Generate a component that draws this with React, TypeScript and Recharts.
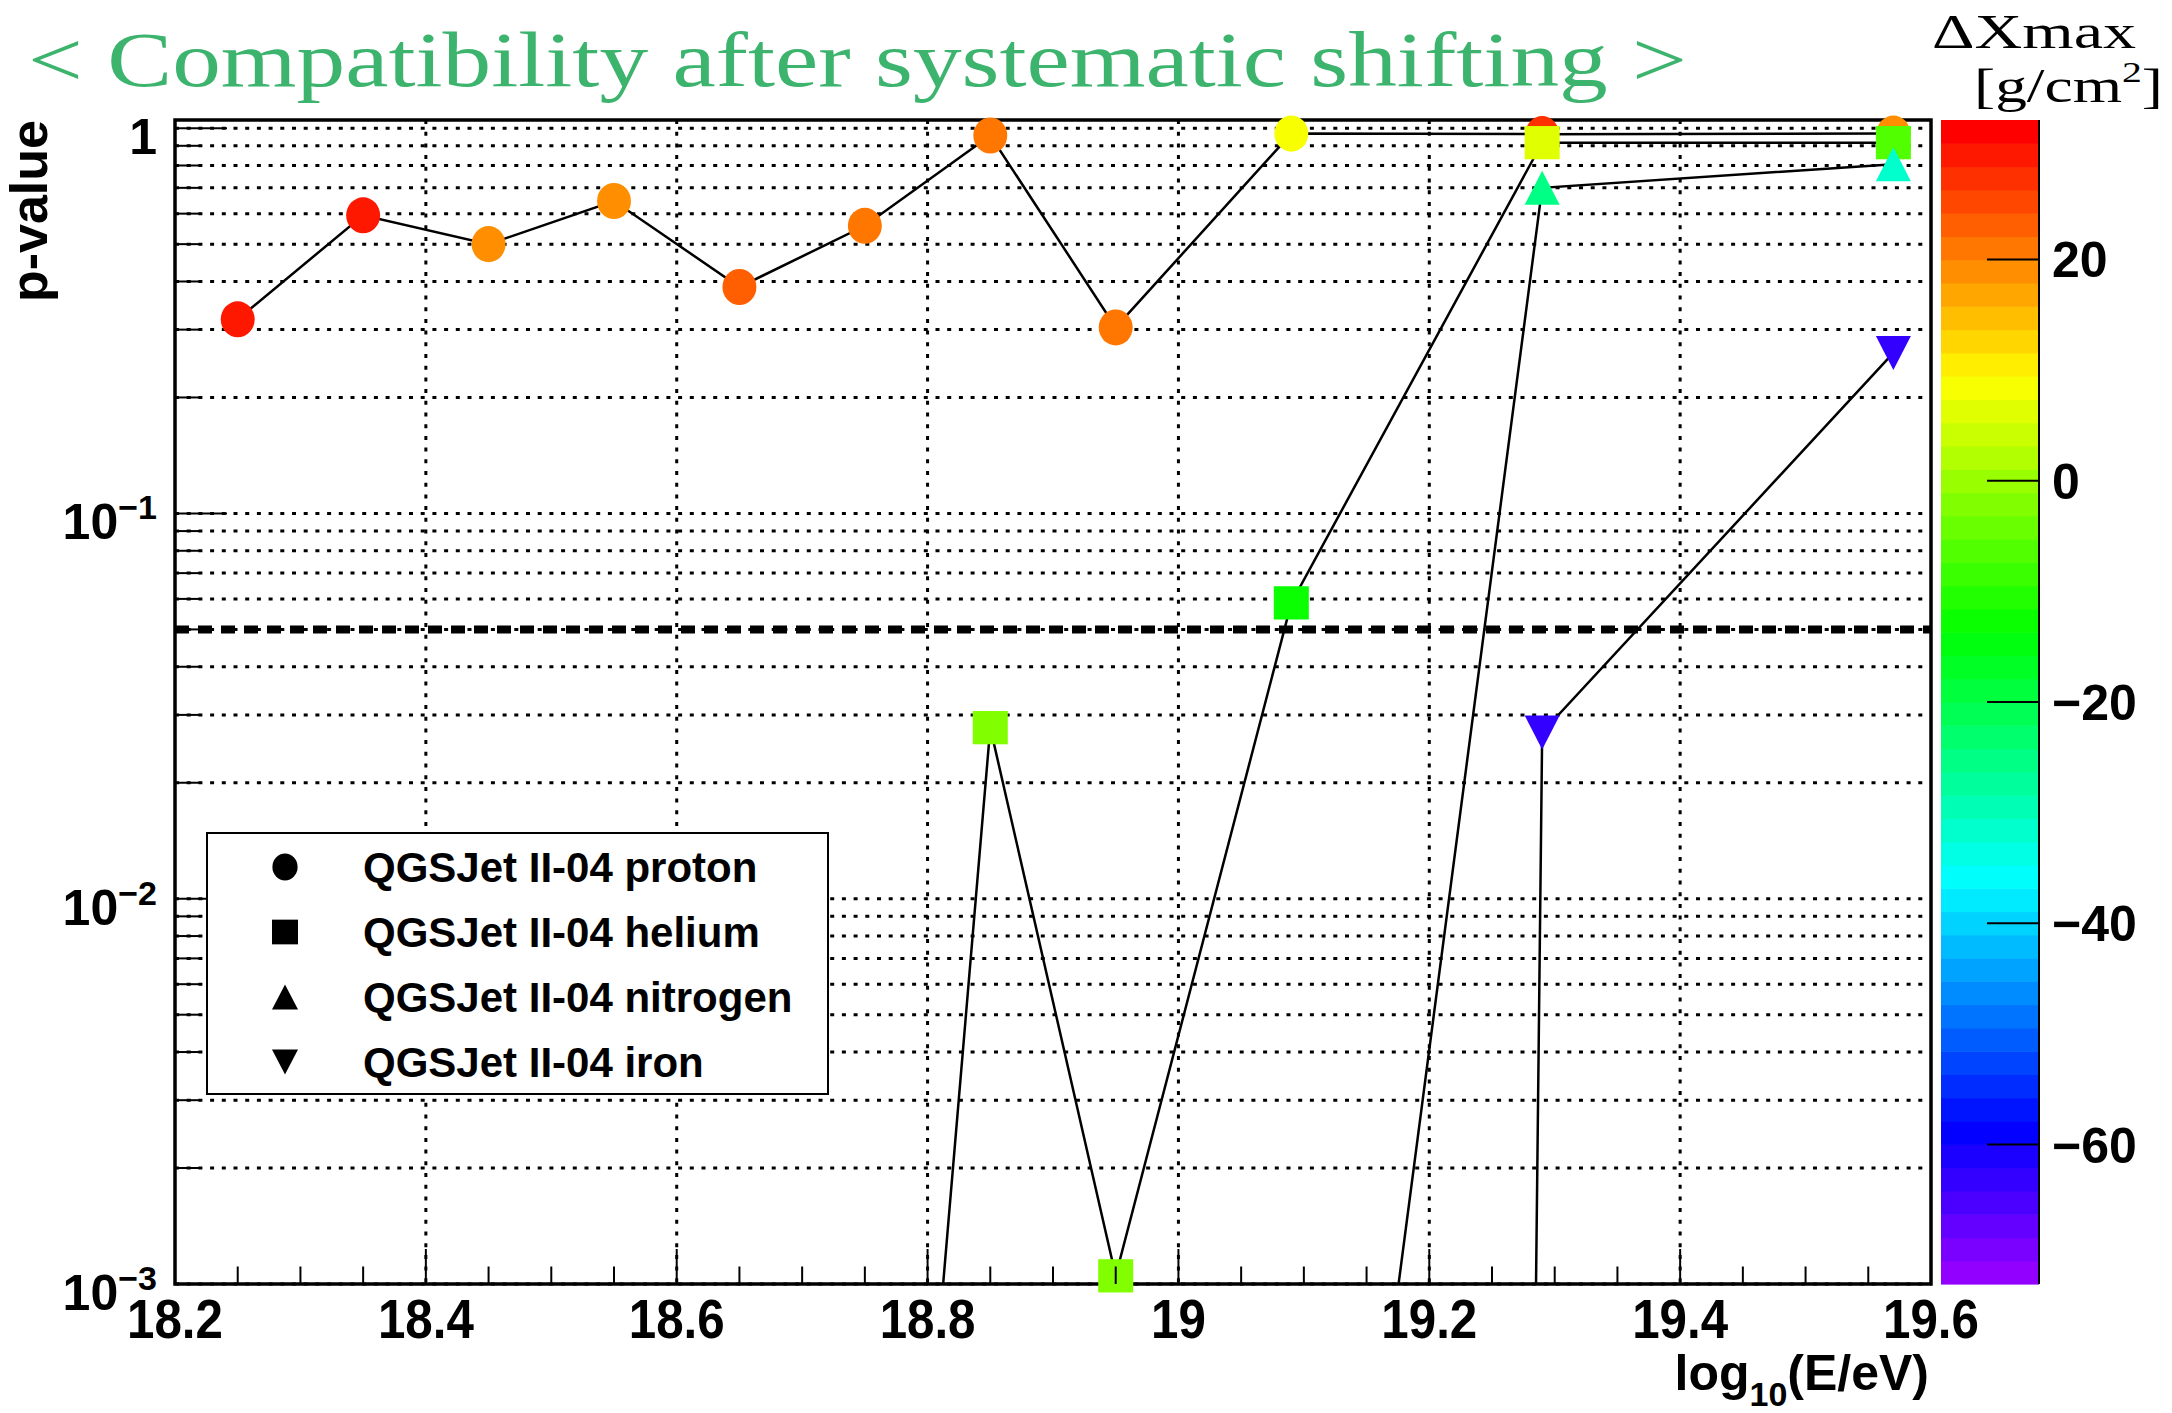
import React from "react";
import {
  ComposedChart,
  Line,
  Scatter,
  XAxis,
  YAxis,
  CartesianGrid,
  ReferenceLine,
  ReferenceArea,
} from "recharts";

// mean log10(E/eV) of each energy bin
const energy = [18.25, 18.35, 18.45, 18.55, 18.65, 18.75, 18.85, 18.95, 19.09, 19.29, 19.57];

// p-values after the Xmax shift, and the applied shift in g/cm2
const protonP = [0.319, 0.594, 0.5, 0.647, 0.387, 0.558, 0.957, 0.304, 0.968, 0.965, 0.968];
const protonShift = [30, 30, 19, 19, 23, 21, 21, 21, 8, 27, 19];

const heliumP = [null, null, null, null, null, 4e-6, 0.0278, 0.00105, 0.0586, 0.917, 0.917];
const heliumShift = [null, null, null, null, null, null, -2, -2, -12.5, 6, -6];

const nitrogenP = [null, null, null, null, null, null, null, null, 7.5e-6, 0.7, 0.806];
const nitrogenShift = [null, null, null, null, null, null, null, null, null, -25, -31.5];

const ironP = [null, null, null, null, null, null, null, null, 1e-60, 0.027, 0.261];
const ironShift = [null, null, null, null, null, null, null, null, null, -63, -63];

const X_MAJOR = [18.2, 18.4, 18.6, 18.8, 19.0, 19.2, 19.4, 19.6];
const X_TICK_LABELS = ["18.2", "18.4", "18.6", "18.8", "19", "19.2", "19.4", "19.6"];
const Y_MAJOR = [0.001, 0.01, 0.1, 1];
const Y_TICK_BASE = ["10", "10", "10", "1"];
const Y_TICK_EXP = ["\u22123", "\u22122", "\u22121", ""];
const SIG_LEVEL = 0.05;

const Z_TICKS = [20, 0, -20, -40, -60];
const Z_TICK_LABELS = ["20", "0", "\u221220", "\u221240", "\u221260"];
const Z_MIN = -72.6;
const Z_MAX = 32.6;
const N_COLORS = 50;

const X_DOMAIN: [number, number] = [18.2, 19.6];
const Y_DOMAIN: [number, number] = [0.001, 1.05];

// plot frame in page pixels
const W = 2172;
const H = 1413;
const LEFT = 175;
const RIGHT = 1931;
const TOP = 120;
const BOTTOM = 1284;

const FONT = "'Liberation Sans', Arial, Helvetica, sans-serif";
const SERIF = "'Liberation Serif', 'Times New Roman', serif";

// minor ticks every 0.05 on x, 1..9 x 10^k on y
const xTicks: number[] = [];
for (let i = 0; i <= 28; i++) xTicks.push(+(18.2 + i * 0.05).toFixed(2));
const yTicks: number[] = [];
for (let k = -3; k < 0; k++) for (let m = 1; m <= 9; m++) yTicks.push(+(m * Math.pow(10, k)).toPrecision(3));
yTicks.push(1);

// ROOT "pretty" palette: hue 280 -> 0 at full saturation
function hls(h: number) {
  const f = (hue: number) => {
    let v = hue;
    if (v > 360) v -= 360;
    if (v < 0) v += 360;
    if (v < 60) return v / 60;
    if (v < 180) return 1;
    if (v < 240) return (240 - v) / 60;
    return 0;
  };
  const c = (x: number) => Math.round(x * 255);
  return `rgb(${c(f(h + 120))},${c(f(h))},${c(f(h - 120))})`;
}
const palette: string[] = [];
for (let i = 0; i < N_COLORS; i++) palette.push(hls(280 - (i + 1) * (280 / N_COLORS)));

function shiftColor(z: number | null) {
  if (z == null) return "#000";
  let i = Math.floor(((z - Z_MIN) / (Z_MAX - Z_MIN)) * N_COLORS);
  i = Math.max(0, Math.min(N_COLORS - 1, i));
  return palette[i];
}

const SERIES = [
  { key: "proton", label: "QGSJet II-04 proton", shape: "circle", p: protonP, shift: protonShift },
  { key: "helium", label: "QGSJet II-04 helium", shape: "square", p: heliumP, shift: heliumShift },
  { key: "nitrogen", label: "QGSJet II-04 nitrogen", shape: "up", p: nitrogenP, shift: nitrogenShift },
  { key: "iron", label: "QGSJet II-04 iron", shape: "down", p: ironP, shift: ironShift },
];

const table = energy.map((x, i) => {
  const row: Record<string, number | null> = { x };
  SERIES.forEach((s) => (row[s.key] = s.p[i]));
  return row;
});

function marks(p: (number | null)[], shift: (number | null)[]) {
  return energy
    .map((x, i) => ({ x, p: p[i], shift: shift[i] }))
    .filter((d) => d.p != null && (d.p as number) >= Y_DOMAIN[0]);
}

function Marker({ shape, cx, cy, size, fill }: { shape: string; cx: number; cy: number; size: number; fill: string }) {
  const h = size / 2;
  if (shape === "circle") return <ellipse cx={cx} cy={cy} rx={h * 0.97} ry={h * 1.03} fill={fill} />;
  if (shape === "square") return <rect x={cx - h} y={cy - h * 0.95} width={size} height={size * 0.95} fill={fill} />;
  if (shape === "up")
    return <polygon points={`${cx - h},${cy + h * 0.97} ${cx + h},${cy + h * 0.97} ${cx},${cy - h * 0.97}`} fill={fill} />;
  return <polygon points={`${cx - h},${cy - h * 0.97} ${cx + h},${cy - h * 0.97} ${cx},${cy + h * 0.97}`} fill={fill} />;
}

const XTick = (props: any) => {
  const { x, y, payload } = props;
  const idx = X_MAJOR.findIndex((m) => Math.abs(m - payload.value) < 1e-6);
  const len = idx >= 0 ? 35 : 17.5;
  return (
    <g>
      <line x1={x} x2={x} y1={y} y2={y - len} stroke="#000" strokeWidth={2} />
      {idx >= 0 && (
        <g transform={`translate(${x},${y + 54}) scale(0.88,1)`}>
          <text x={0} y={0} textAnchor="middle" fontFamily={FONT} fontWeight="bold" fontSize={56} fill="#000">
            {X_TICK_LABELS[idx]}
          </text>
        </g>
      )}
    </g>
  );
};

const YTick = (props: any) => {
  const { x, y, payload } = props;
  const idx = Y_MAJOR.findIndex((m) => Math.abs(m - payload.value) / m < 1e-6);
  const len = idx >= 0 ? 52 : 26;
  return (
    <g>
      <line x1={x} x2={x + len} y1={y} y2={y} stroke="#000" strokeWidth={2} />
      {idx >= 0 && (
        <text x={x - 18} y={y + 26} textAnchor="end" fontFamily={FONT} fontWeight="bold" fontSize={50} fill="#000">
          {Y_TICK_BASE[idx]}
          {Y_TICK_EXP[idx] && (
            <tspan fontSize={34} dy={-20}>
              {Y_TICK_EXP[idx]}
            </tspan>
          )}
        </text>
      )}
    </g>
  );
};

function ColorBar() {
  const x0 = 1941;
  const x1 = 2039;
  const band = (BOTTOM - TOP) / N_COLORS;
  const zy = (z: number) => BOTTOM - ((z - Z_MIN) / (Z_MAX - Z_MIN)) * (BOTTOM - TOP);
  return (
    <g>
      {palette.map((c, i) => (
        <rect key={i} x={x0} y={BOTTOM - (i + 1) * band} width={x1 - x0} height={band + 0.6} fill={c} />
      ))}
      <line x1={x1} x2={x1} y1={TOP} y2={BOTTOM} stroke="#000" strokeWidth={2} />
      {Z_TICKS.map((z, i) => (
        <g key={z}>
          <line x1={x1 - 52} x2={x1} y1={zy(z)} y2={zy(z)} stroke="#000" strokeWidth={2} />
          <text x={2052} y={zy(z) + 18} fontFamily={FONT} fontWeight="bold" fontSize={50} fill="#000">
            {Z_TICK_LABELS[i]}
          </text>
        </g>
      ))}
    </g>
  );
}

function Legend() {
  const rowY = [867, 932, 997, 1062];
  return (
    <g>
      <rect x={207} y={833} width={621} height={261} fill="#fff" stroke="#000" strokeWidth={2} />
      {SERIES.map((s, i) => (
        <g key={s.key}>
          <Marker shape={s.shape} cx={285} cy={rowY[i]} size={26} fill="#000" />
          <text x={363} y={rowY[i] + 15} fontFamily={FONT} fontWeight="bold" fontSize={42} fill="#000">
            {s.label}
          </text>
        </g>
      ))}
    </g>
  );
}

export default function App() {
  return (
    <div style={{ position: "fixed", left: 0, top: 0, width: W, height: H, background: "#fff" }}>
      <ComposedChart
        width={W}
        height={H}
        data={table}
        margin={{ top: TOP, left: LEFT - 1, right: W - RIGHT, bottom: H - BOTTOM - 1 }}
      >
        <XAxis
          dataKey="x"
          type="number"
          domain={X_DOMAIN}
          ticks={xTicks}
          interval={0}
          height={1}
          tickSize={0}
          tickMargin={0}
          axisLine={false}
          tickLine={false}
          tick={<XTick />}
        />
        <YAxis
          yAxisId="p"
          scale="log"
          type="number"
          domain={Y_DOMAIN}
          allowDataOverflow
          ticks={yTicks}
          interval={0}
          width={1}
          tickSize={0}
          tickMargin={0}
          axisLine={false}
          tickLine={false}
          tick={<YTick />}
        />
        <YAxis
          yAxisId="m"
          orientation="right"
          width={0}
          dataKey="p"
          scale="log"
          type="number"
          domain={Y_DOMAIN}
          hide
        />
        <CartesianGrid
          yAxisId="p"
          horizontalValues={yTicks}
          verticalValues={X_MAJOR.slice(1, -1)}
          stroke="#000"
          strokeWidth={3}
          strokeDasharray="4 7.7"
        />
        <ReferenceLine yAxisId="p" y={SIG_LEVEL} stroke="#000" strokeWidth={8} strokeDasharray="14 9" />
        <ReferenceArea
          yAxisId="p"
          x1={X_DOMAIN[0]}
          x2={X_DOMAIN[1]}
          y1={Y_DOMAIN[0]}
          y2={Y_DOMAIN[1]}
          fill="none"
          fillOpacity={0}
          stroke="#000"
          strokeWidth={3.5}
        />
        {SERIES.flatMap((s) => [
          <Line
            key={s.key + "-line"}
            yAxisId="p"
            type="linear"
            dataKey={s.key}
            stroke="#000"
            strokeWidth={2.5}
            dot={false}
            activeDot={false}
            isAnimationActive={false}
          />,
          <Scatter
            key={s.key + "-marks"}
            yAxisId="m"
            data={marks(s.p, s.shift)}
            dataKey="p"
            isAnimationActive={false}
            shape={(pr: any) => (
              <Marker shape={s.shape} cx={pr.cx} cy={pr.cy} size={35} fill={shiftColor(pr.payload.shift)} />
            )}
          />,
        ])}
      </ComposedChart>
      <svg
        width={W}
        height={H}
        style={{ position: "absolute", left: 0, top: 0, pointerEvents: "none" }}
      >
        <text
          x={28}
          y={86}
          fontFamily={SERIF}
          fontSize={78}
          fill="#3db46e"
          textLength={1659}
          lengthAdjust="spacingAndGlyphs"
        >
          {"< Compatibility after systematic shifting >"}
        </text>
        <text x={1932} y={48} fontFamily={SERIF} fontSize={48} fill="#000" textLength={204} lengthAdjust="spacingAndGlyphs">
          {"\u0394Xmax"}
        </text>
        <text x={1974} y={102} fontFamily={SERIF} fontSize={48} fill="#000" textLength={189} lengthAdjust="spacingAndGlyphs">
          {"[g/cm"}
          <tspan fontSize={30} dy={-20}>
            2
          </tspan>
          <tspan dy={20}>]</tspan>
        </text>
        <text
          transform="translate(47,120) rotate(-90)"
          textAnchor="end"
          fontFamily={FONT}
          fontWeight="bold"
          fontSize={52}
          fill="#000"
        >
          p-value
        </text>
        <text x={1929} y={1390} textAnchor="end" fontFamily={FONT} fontWeight="bold" fontSize={50} fill="#000">
          log
          <tspan fontSize={34} dy={16}>
            10
          </tspan>
          <tspan dy={-16}>(E/eV)</tspan>
        </text>
        <ColorBar />
        <Legend />
      </svg>
    </div>
  );
}
